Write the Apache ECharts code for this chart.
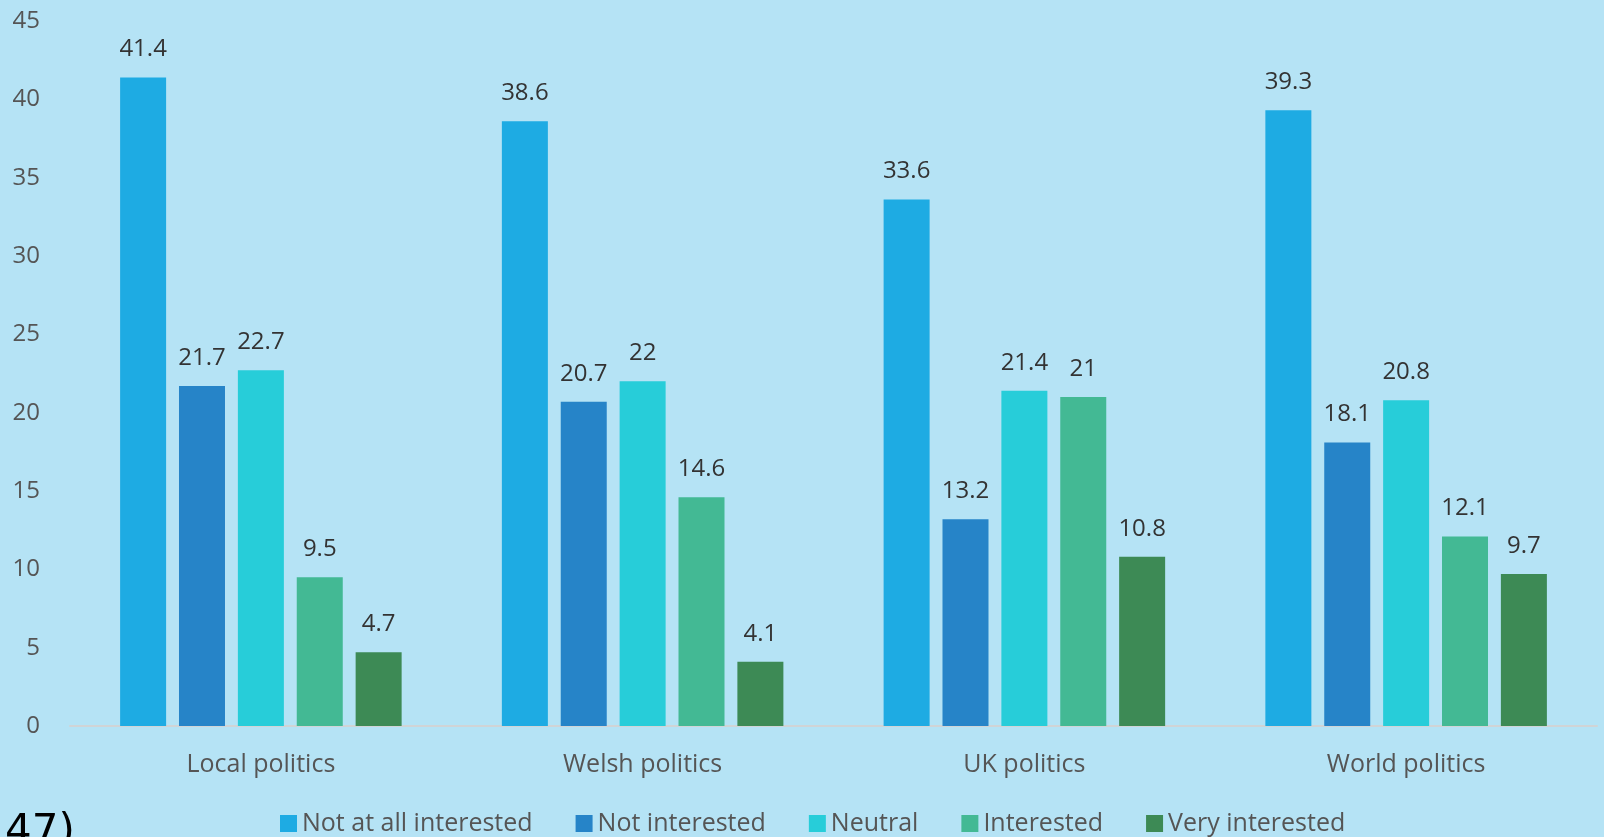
<!DOCTYPE html>
<html>
<head>
<meta charset="utf-8">
<script src="https://cdn.jsdelivr.net/npm/echarts@6/dist/echarts.min.js"></script>
<style>
  html, body { margin: 0; padding: 0; background: #b5e3f5; }
  #chart { width: 1604px; height: 837px; }
</style>
</head>
<body>
<div id="chart"></div>
<script>
// Interest in politics, by level (%)
const categories = ['Local politics', 'Welsh politics', 'UK politics', 'World politics'];
const seriesNames = ['Not at all interested', 'Not interested', 'Neutral', 'Interested', 'Very interested'];
const notAtAllInterested = [41.4, 38.6, 33.6, 39.3];
const notInterested = [21.7, 20.7, 13.2, 18.1];
const neutral = [22.7, 22, 21.4, 20.8];
const interested = [9.5, 14.6, 21, 12.1];
const veryInterested = [4.7, 4.1, 10.8, 9.7];
const yTicks = { min: 0, max: 45, interval: 5 };
const colors = ['#1eabe3', '#2684c8', '#27cdd9', '#43b994', '#3d8a55'];

const values = [notAtAllInterested, notInterested, neutral, interested, veryInterested];
const fontFamily = '"Open Sans", sans-serif';

const chart = echarts.init(document.getElementById('chart'), null, { renderer: 'canvas' });

chart.setOption({
  backgroundColor: '#b5e3f5',
  animation: false,
  textStyle: { fontFamily },
  grid: { left: 70, right: 7, top: 21, bottom: 111, containLabel: false },
  legend: {
    data: seriesNames,
    top: 806,
    left: 275,
    icon: 'rect',
    itemWidth: 17,
    itemHeight: 17,
    itemGap: 43,
    textStyle: { color: '#555', fontSize: 25, fontFamily }
  },
  xAxis: {
    type: 'category',
    data: categories,
    axisLine: { show: true, lineStyle: { color: '#d0d4d6', width: 2 } },
    axisTick: { show: false },
    axisLabel: { color: '#555', fontSize: 25, margin: 26, fontFamily },
    splitLine: { show: false }
  },
  yAxis: {
    type: 'value',
    min: yTicks.min,
    max: yTicks.max,
    interval: yTicks.interval,
    axisLine: { show: false },
    axisTick: { show: false },
    splitLine: { show: false },
    axisLabel: { color: '#555', fontSize: 24, margin: 30, fontFamily }
  },
  series: seriesNames.map((name, i) => ({
    name,
    type: 'bar',
    data: values[i],
    barWidth: 46,
    barGap: '28%',
    itemStyle: { color: colors[i] },
    label: {
      show: true,
      position: 'top',
      distance: 16,
      color: '#333',
      fontSize: 24,
      fontFamily
    }
  })),
  graphic: [{
    type: 'text',
    left: 5,
    top: 812,
    style: { text: '47)', fill: '#000', font: '42px "DejaVu Sans", sans-serif' }
  }]
});
</script>
</body>
</html>
